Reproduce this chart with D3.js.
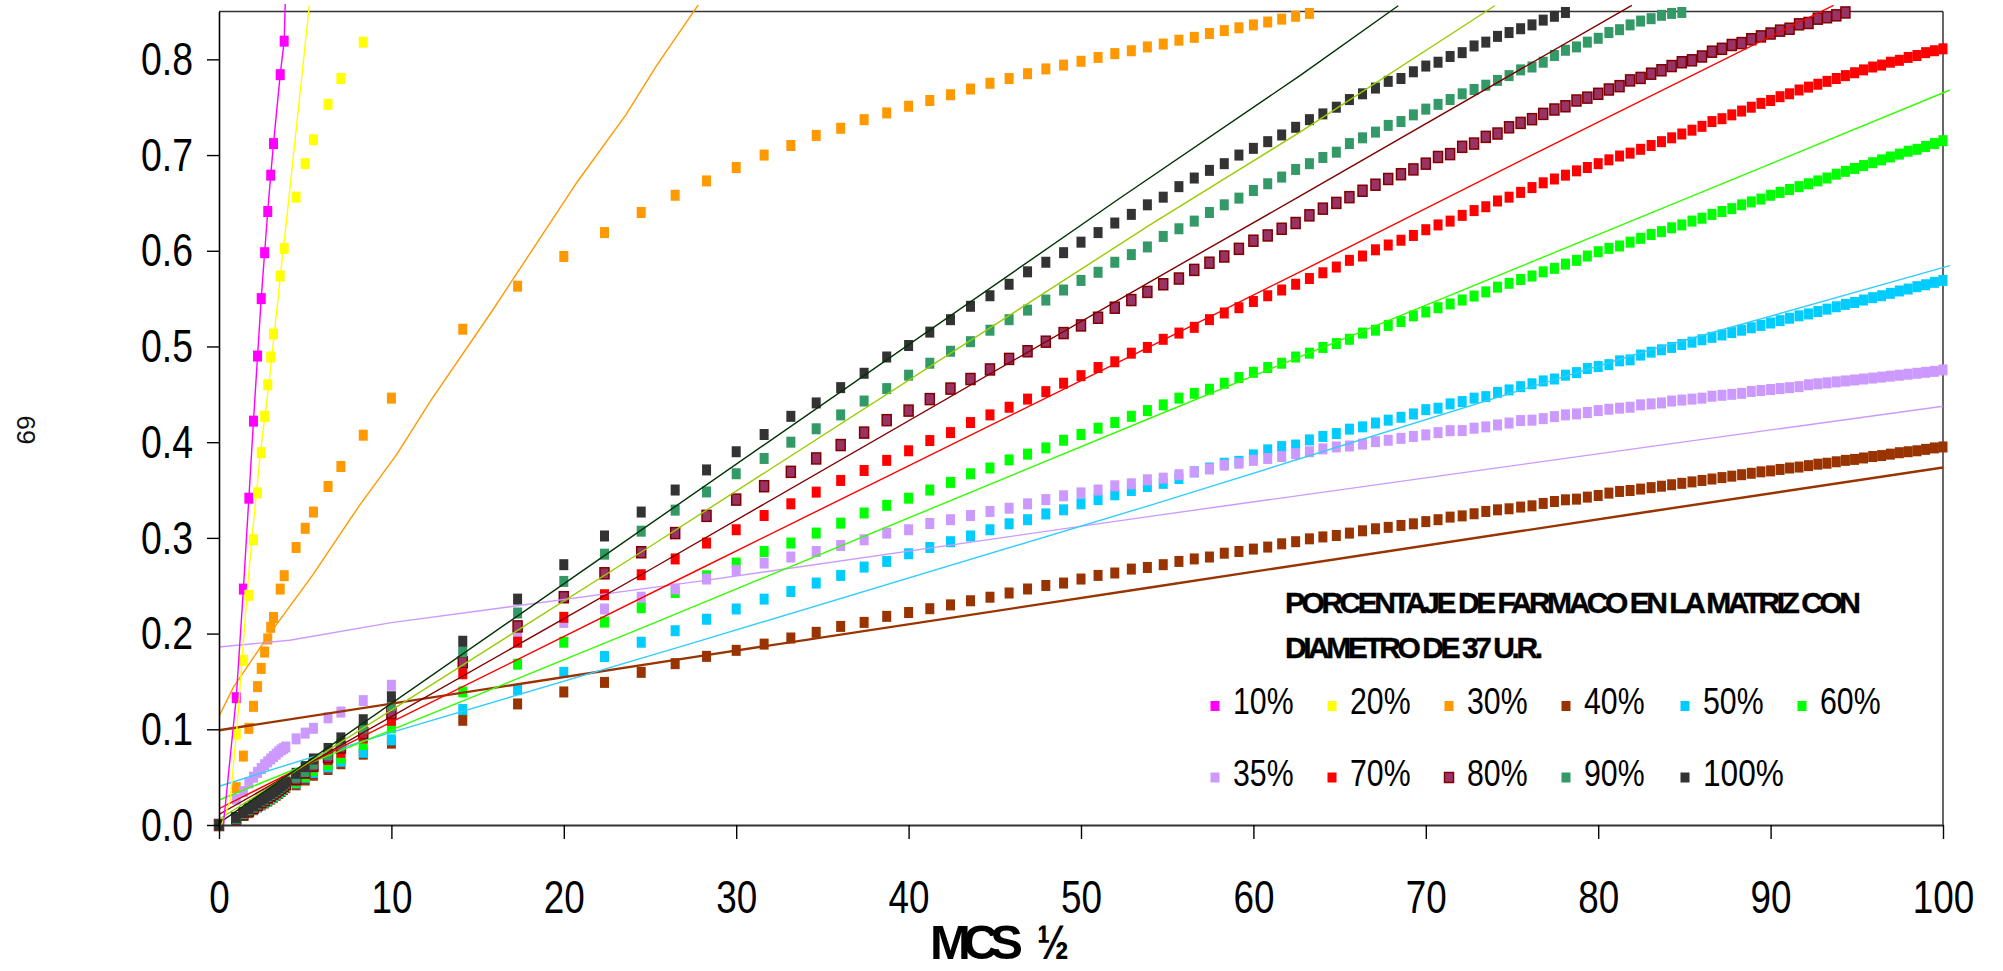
<!DOCTYPE html>
<html>
<head>
<meta charset="utf-8">
<script src="https://cdn.jsdelivr.net/npm/d3@7"></script>
<style>
  html, body { margin: 0; padding: 0; background: #fff; }
  svg { display: block; font-family: "Liberation Sans", Arial, sans-serif; }
</style>
</head>
<body>
<svg id="chart" width="2003" height="971"></svg>
<script>
// ---- x values: square root of MCS ----
// sampling used by the 35 % ... 100 % matrices: MCS 0..15, 20, 25, 30, 40, 50, 70, then 100..10000 every 100
const mcsHalfB = [
  0, 1, 1.414, 1.732, 2, 2.236, 2.449, 2.646, 2.828, 3, 3.162, 3.317, 3.464, 3.606, 3.742, 3.873,
  4.472, 5, 5.477, 6.325, 7.071, 8.367,
  10, 14.14, 17.32, 20, 22.36, 24.49, 26.46, 28.28, 30, 31.62,
  33.17, 34.64, 36.06, 37.42, 38.73, 40, 41.23, 42.43, 43.59, 44.72,
  45.83, 46.9, 47.96, 48.99, 50, 50.99, 51.96, 52.92, 53.85, 54.77,
  55.68, 56.57, 57.45, 58.31, 59.16, 60, 60.83, 61.64, 62.45, 63.25,
  64.03, 64.81, 65.57, 66.33, 67.08, 67.82, 68.56, 69.28, 70, 70.71,
  71.41, 72.11, 72.8, 73.48, 74.16, 74.83, 75.5, 76.16, 76.81, 77.46,
  78.1, 78.74, 79.37, 80, 80.62, 81.24, 81.85, 82.46, 83.07, 83.67,
  84.26, 84.85, 85.44, 86.02, 86.6, 87.18, 87.75, 88.32, 88.88, 89.44,
  90, 90.55, 91.1, 91.65, 92.2, 92.74, 93.27, 93.81, 94.34, 94.87,
  95.39, 95.92, 96.44, 96.95, 97.47, 97.98, 98.49, 98.99, 99.5, 100
];
// sampling used by the 10 %, 20 % and 30 % matrices (same grid from MCS 100 on)
const mcsHalfA = [0, 1, 1.414, 1.732, 2, 2.236, 2.449, 2.646, 2.828, 3, 3.162, 3.55, 3.78,
  4.472, 5, 5.477, 6.325, 7.071, 8.367].concat(mcsHalfB.slice(22));

// ---- released fraction per drug percentage ----
const pct10 = [0, 0.133, 0.2465, 0.3415, 0.422, 0.490, 0.550, 0.598, 0.641, 0.679, 0.712, 0.784, 0.819];
const pct20 = [0, 0.095, 0.172, 0.240, 0.298, 0.347, 0.389, 0.427, 0.460, 0.489, 0.513, 0.5736, 0.6025,
  0.656, 0.691, 0.716, 0.753, 0.780, 0.818];
const pct30 = [0, 0.039, 0.072, 0.101, 0.124, 0.1446, 0.1636, 0.1807, 0.1944, 0.2066, 0.2168, 0.2465, 0.2605,
  0.290, 0.310, 0.327, 0.3537, 0.3746, 0.4073,
  0.446, 0.518, 0.563, 0.594, 0.619, 0.640, 0.658, 0.673, 0.687, 0.700,
  0.710, 0.7205, 0.728, 0.737, 0.744, 0.751, 0.757, 0.763, 0.769, 0.775,
  0.780, 0.785, 0.790, 0.794, 0.798, 0.802, 0.806, 0.809, 0.813, 0.816,
  0.820, 0.823, 0.827, 0.830, 0.833, 0.836, 0.839, 0.842, 0.845, 0.848];
const pct40 = [0, 0.006, 0.010, 0.013, 0.016, 0.019, 0.021, 0.023, 0.025, 0.027, 0.029, 0.031, 0.033, 0.035, 0.037, 0.039,
  0.042, 0.047, 0.052, 0.058, 0.064, 0.074,
  0.0855, 0.1094, 0.1265, 0.139, 0.149, 0.1595, 0.1686, 0.1762, 0.1825, 0.189,
  0.1954, 0.2013, 0.2075, 0.2117, 0.218, 0.222, 0.226, 0.230, 0.2343, 0.238,
  0.2424, 0.2466, 0.2503, 0.2528, 0.257, 0.2608, 0.2633, 0.2674, 0.2691, 0.272,
  0.2754, 0.278, 0.280, 0.284, 0.2858, 0.2883, 0.2904, 0.2938, 0.296, 0.299,
  0.301, 0.3025, 0.305, 0.3074, 0.3095, 0.311, 0.313, 0.3147, 0.317, 0.319,
  0.3217, 0.323, 0.3252, 0.3276, 0.3293, 0.3304, 0.3322, 0.3335, 0.336, 0.338,
  0.3398, 0.3405, 0.3426, 0.3443, 0.3468, 0.3485, 0.3495, 0.351, 0.3525, 0.354,
  0.3555, 0.357, 0.3585, 0.360, 0.3615, 0.363, 0.3645, 0.366, 0.3675, 0.369,
  0.370, 0.3715, 0.373, 0.374, 0.3755, 0.377, 0.378, 0.3795, 0.381, 0.382,
  0.3835, 0.385, 0.386, 0.3875, 0.389, 0.390, 0.391, 0.3925, 0.394, 0.395];
const pct50 = [0, 0.006, 0.010, 0.014, 0.017, 0.019, 0.022, 0.024, 0.026, 0.028, 0.030, 0.032, 0.034, 0.036, 0.038, 0.040,
  0.044, 0.050, 0.055, 0.0607, 0.0666, 0.076,
  0.089, 0.1206, 0.1414, 0.1595, 0.176, 0.191, 0.203, 0.215, 0.2257, 0.236,
  0.244, 0.2528, 0.2608, 0.2695, 0.2754, 0.2834, 0.290, 0.296, 0.302, 0.3085,
  0.3147, 0.319, 0.325, 0.3293, 0.3356, 0.340, 0.345, 0.3495, 0.3537, 0.357,
  0.362, 0.369, 0.373, 0.378, 0.380, 0.3867, 0.392, 0.3954, 0.397, 0.4024,
  0.406, 0.409, 0.4136, 0.416, 0.420, 0.423, 0.426, 0.4295, 0.434, 0.4355,
  0.440, 0.4424, 0.446, 0.4476, 0.452, 0.4546, 0.458, 0.461, 0.464, 0.466,
  0.470, 0.4727, 0.477, 0.479, 0.481, 0.485, 0.486, 0.491, 0.494, 0.4965,
  0.499, 0.502, 0.5045, 0.507, 0.5095, 0.512, 0.5145, 0.517, 0.5195, 0.522,
  0.5245, 0.527, 0.5295, 0.532, 0.534, 0.5365, 0.539, 0.5415, 0.544, 0.546,
  0.5485, 0.551, 0.553, 0.5555, 0.558, 0.560, 0.5625, 0.5645, 0.567, 0.569];
const pct60 = [0, 0.006, 0.010, 0.014, 0.017, 0.020, 0.022, 0.025, 0.027, 0.029, 0.031, 0.033, 0.035, 0.037, 0.039, 0.041,
  0.045, 0.051, 0.057, 0.063, 0.070, 0.084,
  0.1015, 0.139, 0.168, 0.191, 0.212, 0.227, 0.243, 0.2604, 0.2737, 0.2858,
  0.2946, 0.305, 0.3154, 0.326, 0.334, 0.3415, 0.350, 0.358, 0.367, 0.373,
  0.3815, 0.3875, 0.394, 0.402, 0.408, 0.4146, 0.4205, 0.427, 0.433, 0.439,
  0.446, 0.451, 0.4553, 0.4616, 0.4675, 0.473, 0.478, 0.4825, 0.489, 0.493,
  0.499, 0.503, 0.5075, 0.514, 0.517, 0.522, 0.526, 0.532, 0.536, 0.5405,
  0.5444, 0.5485, 0.5527, 0.557, 0.562, 0.566, 0.570, 0.5736, 0.578, 0.5816,
  0.586, 0.590, 0.5945, 0.599, 0.6025, 0.605, 0.609, 0.613, 0.617, 0.620,
  0.624, 0.627, 0.631, 0.634, 0.638, 0.641, 0.644, 0.648, 0.651, 0.654,
  0.658, 0.661, 0.664, 0.667, 0.670, 0.673, 0.676, 0.680, 0.683, 0.686,
  0.689, 0.692, 0.695, 0.698, 0.701, 0.704, 0.706, 0.709, 0.712, 0.715];
const pct35 = [0, 0.027, 0.035, 0.044, 0.050, 0.055, 0.059, 0.063, 0.066, 0.069, 0.0715, 0.074, 0.0765, 0.0785, 0.080, 0.0815,
  0.090, 0.096, 0.101, 0.112, 0.118, 0.130,
  0.146, 0.177, 0.202, 0.2117, 0.2257, 0.238, 0.2466, 0.257, 0.266, 0.2737,
  0.280, 0.2858, 0.292, 0.298, 0.305, 0.3085, 0.315, 0.319, 0.3234, 0.3276,
  0.331, 0.3356, 0.340, 0.344, 0.347, 0.350, 0.3544, 0.3565, 0.3607, 0.3624,
  0.366, 0.369, 0.372, 0.376, 0.378, 0.381, 0.383, 0.385, 0.388, 0.390,
  0.393, 0.395, 0.396, 0.398, 0.4006, 0.402, 0.404, 0.406, 0.4076, 0.410,
  0.412, 0.4121, 0.4146, 0.416, 0.418, 0.420, 0.4226, 0.423, 0.4246, 0.4267,
  0.4285, 0.4295, 0.431, 0.433, 0.4344, 0.4355, 0.4365, 0.439, 0.440, 0.441,
  0.443, 0.444, 0.445, 0.446, 0.448, 0.449, 0.450, 0.451, 0.453, 0.454,
  0.455, 0.456, 0.457, 0.458, 0.460, 0.461, 0.462, 0.463, 0.464, 0.465,
  0.466, 0.467, 0.468, 0.469, 0.470, 0.471, 0.472, 0.473, 0.474, 0.4755];
const pct70 = [0, 0.006, 0.011, 0.015, 0.018, 0.021, 0.023, 0.026, 0.028, 0.030, 0.032, 0.034, 0.036, 0.038, 0.040, 0.042,
  0.047, 0.054, 0.061, 0.0684, 0.076, 0.091,
  0.1094, 0.158, 0.191, 0.217, 0.2406, 0.2615, 0.278, 0.2946, 0.3085, 0.3234,
  0.3356, 0.3478, 0.360, 0.3704, 0.381, 0.391, 0.4017, 0.410, 0.4205, 0.4285,
  0.4365, 0.445, 0.4528, 0.4616, 0.4695, 0.478, 0.484, 0.493, 0.499, 0.5075,
  0.514, 0.520, 0.528, 0.535, 0.5405, 0.547, 0.553, 0.559, 0.565, 0.571,
  0.577, 0.583, 0.590, 0.5945, 0.601, 0.606, 0.611, 0.616, 0.622, 0.627,
  0.631, 0.637, 0.642, 0.646, 0.652, 0.656, 0.661, 0.666, 0.671, 0.675,
  0.679, 0.6835, 0.687, 0.691, 0.695, 0.699, 0.702, 0.706, 0.710, 0.714,
  0.718, 0.722, 0.726, 0.730, 0.735, 0.738, 0.742, 0.746, 0.750, 0.754,
  0.757, 0.761, 0.764, 0.768, 0.771, 0.774, 0.777, 0.780, 0.783, 0.786,
  0.789, 0.792, 0.794, 0.797, 0.799, 0.802, 0.804, 0.807, 0.809, 0.811];
const pct80 = [0, 0.007, 0.011, 0.015, 0.018, 0.021, 0.024, 0.026, 0.029, 0.031, 0.033, 0.035, 0.037, 0.039, 0.041, 0.043,
  0.048, 0.055, 0.062, 0.071, 0.081, 0.096,
  0.117, 0.170, 0.2075, 0.238, 0.263, 0.285, 0.305, 0.323, 0.340, 0.354,
  0.369, 0.383, 0.397, 0.410, 0.423, 0.433, 0.445, 0.456, 0.466, 0.476,
  0.487, 0.495, 0.505, 0.514, 0.522, 0.530, 0.5405, 0.5485, 0.557, 0.565,
  0.571, 0.580, 0.5875, 0.594, 0.602, 0.6105, 0.616, 0.623, 0.629, 0.637,
  0.644, 0.650, 0.656, 0.6627, 0.669, 0.675, 0.680, 0.685, 0.691, 0.698,
  0.701, 0.7086, 0.712, 0.719, 0.7225, 0.729, 0.7336, 0.7375, 0.743, 0.7476,
  0.751, 0.757, 0.760, 0.764, 0.7685, 0.772, 0.778, 0.7806, 0.785, 0.7886,
  0.793, 0.797, 0.799, 0.803, 0.808, 0.811, 0.815, 0.817, 0.821, 0.824,
  0.827, 0.830, 0.832, 0.8366, 0.838, 0.8425, 0.844, 0.846, 0.849];
const pct90 = [0, 0.007, 0.012, 0.016, 0.019, 0.022, 0.025, 0.027, 0.030, 0.032, 0.034, 0.036, 0.038, 0.040, 0.042, 0.044,
  0.050, 0.056, 0.064, 0.0736, 0.084, 0.1015,
  0.125, 0.181, 0.2215, 0.2545, 0.283, 0.307, 0.329, 0.348, 0.367, 0.383,
  0.400, 0.414, 0.4285, 0.443, 0.456, 0.470, 0.4825, 0.495, 0.505, 0.517,
  0.528, 0.538, 0.5485, 0.559, 0.569, 0.5775, 0.588, 0.596, 0.604, 0.615,
  0.623, 0.631, 0.640, 0.648, 0.655, 0.663, 0.670, 0.677, 0.685, 0.691,
  0.6975, 0.703, 0.712, 0.718, 0.724, 0.731, 0.735, 0.742, 0.748, 0.753,
  0.758, 0.764, 0.7685, 0.773, 0.778, 0.783, 0.789, 0.792, 0.797, 0.804,
  0.8095, 0.813, 0.818, 0.822, 0.828, 0.831, 0.836, 0.840, 0.8425, 0.846,
  0.848, 0.849];
const pct100 = [0, 0.008, 0.013, 0.017, 0.020, 0.023, 0.026, 0.028, 0.031, 0.033, 0.035, 0.037, 0.039, 0.041, 0.043, 0.045,
  0.054, 0.061, 0.069, 0.080, 0.091, 0.110,
  0.134, 0.192, 0.236, 0.272, 0.302, 0.327, 0.350, 0.371, 0.390, 0.408,
  0.427, 0.441, 0.457, 0.472, 0.489, 0.501, 0.515, 0.528, 0.542, 0.553,
  0.565, 0.578, 0.588, 0.598, 0.609, 0.619, 0.629, 0.638, 0.648, 0.656,
  0.667, 0.676, 0.684, 0.691, 0.700, 0.707, 0.714, 0.721, 0.729, 0.737,
  0.743, 0.750, 0.758, 0.764, 0.770, 0.777, 0.780, 0.787, 0.793, 0.797,
  0.803, 0.807, 0.814, 0.818, 0.824, 0.828, 0.832, 0.836, 0.841, 0.845,
  0.849];

// ---- model curves (drawn as thin lines, no markers) ----
const fit10X = [0.25, 1, 1.414, 1.732, 2, 2.236, 2.449, 2.646, 2.828, 3, 3.162, 3.55, 3.78, 3.86];
const fit10Y = [0, 0.133, 0.2465, 0.3415, 0.422, 0.49, 0.55, 0.598, 0.641, 0.679, 0.712, 0.784, 0.819, 0.87];
const fit20X = [0.15, 0.65, 1.04, 1.33, 1.65, 1.9, 2.16, 2.4, 2.78, 2.92, 3.31, 3.73, 3.9, 5.24];
const fit20Y = [0, 0.026, 0.102, 0.1705, 0.2465, 0.2978, 0.345, 0.389, 0.444, 0.465, 0.531, 0.6025, 0.6286, 0.8565];
const fit30X = [0, 0.83, 2.75, 5.45, 8.15, 10.3, 12.3, 15.8, 20.7, 23.6, 25.4, 27.8];
const fit30Y = [0.1135, 0.1438, 0.195, 0.2617, 0.334, 0.387, 0.444, 0.536, 0.670, 0.742, 0.794, 0.857];
const fit35X = [0, 4.1, 10, 27.8, 54, 83, 100];
const fit35Y = [0.186, 0.193, 0.2115, 0.2545, 0.3225, 0.3954, 0.4376];
const fit40X = [0, 27.8, 54, 83, 100];
const fit40Y = [0.099, 0.1762, 0.2482, 0.3276, 0.3736];
const fit50X = [0, 9.9, 27.8, 54, 83, 100.4];
const fit50Y = [0.0405, 0.0962, 0.1919, 0.334, 0.4963, 0.5844];
const fit60X = [0, 25, 54, 83, 100.4];
const fit60Y = [0.026, 0.2093, 0.425, 0.639, 0.768];
const fit70X = [0, 9.9, 27.8, 54, 62.7, 76.7, 93.65];
const fit70Y = [0.017, 0.1067, 0.2667, 0.4998, 0.578, 0.705, 0.8565];
const fit80X = [0, 25, 54, 62.7, 81.95];
const fit80Y = [0.011, 0.2667, 0.5676, 0.657, 0.8565];
const fit90X = [0, 25, 54, 62.7, 74];
const fit90Y = [0.006, 0.291, 0.627, 0.724, 0.856];
const fit100X = [0, 22, 52.1, 62.7, 68.4];
const fit100Y = [0.002, 0.277, 0.653, 0.783, 0.856];

// ---- axis ticks and legend text ----
const xTicks = [0, 10, 20, 30, 40, 50, 60, 70, 80, 90, 100];
const yTicks = [0, 0.1, 0.2, 0.3, 0.4, 0.5, 0.6, 0.7, 0.8];
const legendTitle = ["PORCENTAJE DE FARMACO EN LA MATRIZ CON", "DIAMETRO DE 37 U.R."];
const xTitleParts = ["MCS", "\u00BD"];
const pageNumber = "69";

// ---- series styling ----
const series = [
  { name: "10%",  xs: mcsHalfA, ys: pct10,  fill: "#FF00FF" },
  { name: "20%",  xs: mcsHalfA, ys: pct20,  fill: "#FFFF00" },
  { name: "30%",  xs: mcsHalfA, ys: pct30,  fill: "#FF9900" },
  { name: "40%",  xs: mcsHalfB, ys: pct40,  fill: "#993300" },
  { name: "50%",  xs: mcsHalfB, ys: pct50,  fill: "#00CCFF" },
  { name: "60%",  xs: mcsHalfB, ys: pct60,  fill: "#00FF00" },
  { name: "35%",  xs: mcsHalfB, ys: pct35,  fill: "#CC99FF" },
  { name: "70%",  xs: mcsHalfB, ys: pct70,  fill: "#FF0000" },
  { name: "80%",  xs: mcsHalfB, ys: pct80,  fill: "#993366", stroke: "#800000" },
  { name: "90%",  xs: mcsHalfB, ys: pct90,  fill: "#339966" },
  { name: "100%", xs: mcsHalfB, ys: pct100, fill: "#333333" }
];
const fits = [
  { xs: fit40X,  ys: fit40Y,  color: "#993300", w: 2.4 },
  { xs: fit35X,  ys: fit35Y,  color: "#CC99FF", w: 1.4 },
  { xs: fit50X,  ys: fit50Y,  color: "#33CCFF", w: 1.4 },
  { xs: fit60X,  ys: fit60Y,  color: "#33FF00", w: 1.4 },
  { xs: fit70X,  ys: fit70Y,  color: "#FF0000", w: 1.4 },
  { xs: fit80X,  ys: fit80Y,  color: "#800000", w: 1.4 },
  { xs: fit90X,  ys: fit90Y,  color: "#99CC00", w: 1.4 },
  { xs: fit100X, ys: fit100Y, color: "#003300", w: 1.4 },
  { xs: fit30X,  ys: fit30Y,  color: "#FF9900", w: 1.4 },
  { xs: fit20X,  ys: fit20Y,  color: "#FFFF00", w: 1.4 },
  { xs: fit10X,  ys: fit10Y,  color: "#FF00FF", w: 1.4 }
];

// ---- layout ----
const svg = d3.select("#chart");
const plot = { left: 219, right: 1943, top: 11.5, bottom: 825 };
const x = d3.scaleLinear().domain([0, 100]).range([plot.left, plot.right]);
const y = d3.scaleLinear().domain([0, 0.85]).range([plot.bottom, plot.top]);

svg.append("rect").attr("width", 2003).attr("height", 971).attr("fill", "#fff");

const defs = svg.append("defs");
defs.append("clipPath").attr("id", "lineClip")
  .append("rect").attr("x", plot.left).attr("y", 4)
  .attr("width", plot.right - plot.left + 9).attr("height", plot.bottom - 4);

// plot frame (top and right edges)
svg.append("line").attr("x1", plot.left).attr("x2", plot.right)
  .attr("y1", plot.top).attr("y2", plot.top).attr("stroke", "#333").attr("stroke-width", 1.4);
svg.append("line").attr("x1", plot.right).attr("x2", plot.right)
  .attr("y1", plot.top).attr("y2", plot.bottom).attr("stroke", "#000").attr("stroke-width", 1.2);

// markers, in series order so later percentages sit on top
const markerW = 9, markerH = 11;
const markers = svg.append("g");
series.forEach(s => {
  const pts = s.ys.map((v, i) => [s.xs[i], v]).filter(d => d[1] <= 0.85);
  markers.append("g").selectAll("rect").data(pts).join("rect")
    .attr("x", d => x(d[0]) - markerW / 2)
    .attr("y", d => y(d[1]) - markerH / 2)
    .attr("width", markerW).attr("height", markerH)
    .attr("fill", s.fill)
    .attr("stroke", s.stroke || "none")
    .attr("stroke-width", s.stroke ? 1.5 : 0);
});

// model curves
const lineGen = d3.line().x(d => x(d[0])).y(d => y(d[1]));
const fitLayer = svg.append("g").attr("clip-path", "url(#lineClip)");
fits.forEach(f => {
  fitLayer.append("path")
    .datum(f.xs.map((v, i) => [v, f.ys[i]]))
    .attr("d", lineGen)
    .attr("fill", "none")
    .attr("stroke", f.color)
    .attr("stroke-width", f.w)
    .attr("stroke-linejoin", "round");
});

// y axis
const yAxis = svg.append("g").attr("transform", `translate(${plot.left},0)`)
  .call(d3.axisLeft(y).tickValues(yTicks).tickFormat(d3.format(".1f")).tickSize(12).tickSizeOuter(0));
yAxis.select(".domain").attr("stroke", "#000").attr("stroke-width", 1.6);
yAxis.selectAll(".tick line").attr("stroke", "#000").attr("stroke-width", 1.4);
yAxis.selectAll(".tick text")
  .attr("x", -26).attr("dy", "0.33em")
  .attr("font-size", 46).attr("fill", "#000")
  .attr("font-family", "'Liberation Sans', Arial, sans-serif")
  .attr("textLength", 52).attr("lengthAdjust", "spacingAndGlyphs");

// x axis
const xAxis = svg.append("g").attr("transform", `translate(0,${plot.bottom})`)
  .call(d3.axisBottom(x).tickValues(xTicks).tickFormat(d3.format("d")).tickSize(14).tickSizeOuter(0));
xAxis.select(".domain").attr("stroke", "#333").attr("stroke-width", 2.2);
xAxis.selectAll(".tick line").attr("stroke", "#000").attr("stroke-width", 1.4);
xAxis.selectAll(".tick text")
  .attr("y", 88).attr("dy", 0)
  .attr("font-size", 46).attr("fill", "#000")
  .attr("font-family", "'Liberation Sans', Arial, sans-serif")
  .attr("textLength", d => String(d).length * 20.5)
  .attr("lengthAdjust", "spacingAndGlyphs");

// axis title: "MCS" followed by the one-half sign
svg.append("text")
  .attr("x", 930).attr("y", 959)
  .attr("font-size", 49).attr("font-weight", "bold").attr("fill", "#000")
  .attr("textLength", 93).attr("lengthAdjust", "spacing")
  .text(xTitleParts[0]);
svg.append("text")
  .attr("x", 1037).attr("y", 959)
  .attr("font-size", 49).attr("font-weight", "bold").attr("fill", "#000")
  .attr("textLength", 32).attr("lengthAdjust", "spacingAndGlyphs")
  .text(xTitleParts[1]);

// page number at the left margin
svg.append("text")
  .attr("transform", "translate(17,430) rotate(90)")
  .attr("text-anchor", "middle")
  .attr("font-size", 26).attr("fill", "#111")
  .text(pageNumber);

// legend
const legend = svg.append("g");
legend.append("text").attr("x", 1285).attr("y", 613)
  .attr("font-size", 30).attr("font-weight", "bold").attr("fill", "#000")
  .attr("stroke", "#000").attr("stroke-width", 0.4)
  .attr("textLength", 576).attr("lengthAdjust", "spacing")
  .text(legendTitle[0]);
legend.append("text").attr("x", 1285).attr("y", 658)
  .attr("font-size", 30).attr("font-weight", "bold").attr("fill", "#000")
  .attr("stroke", "#000").attr("stroke-width", 0.4)
  .attr("textLength", 258).attr("lengthAdjust", "spacing")
  .text(legendTitle[1]);

const colX = [1215, 1332, 1449, 1566, 1685, 1802];
const rowY = [706, 777.5];
series.forEach((s, i) => {
  const cx = colX[i % 6], cy = rowY[Math.floor(i / 6)];
  legend.append("rect")
    .attr("x", cx - 4.5).attr("y", cy - 5)
    .attr("width", 9).attr("height", 10)
    .attr("fill", s.fill)
    .attr("stroke", s.stroke || "none").attr("stroke-width", s.stroke ? 1.5 : 0);
  legend.append("text")
    .attr("x", cx + 18).attr("y", cy + 8)
    .attr("font-size", 36).attr("fill", "#000")
    .attr("textLength", s.name.length * 20.2).attr("lengthAdjust", "spacingAndGlyphs")
    .text(s.name);
});
</script>
</body>
</html>
